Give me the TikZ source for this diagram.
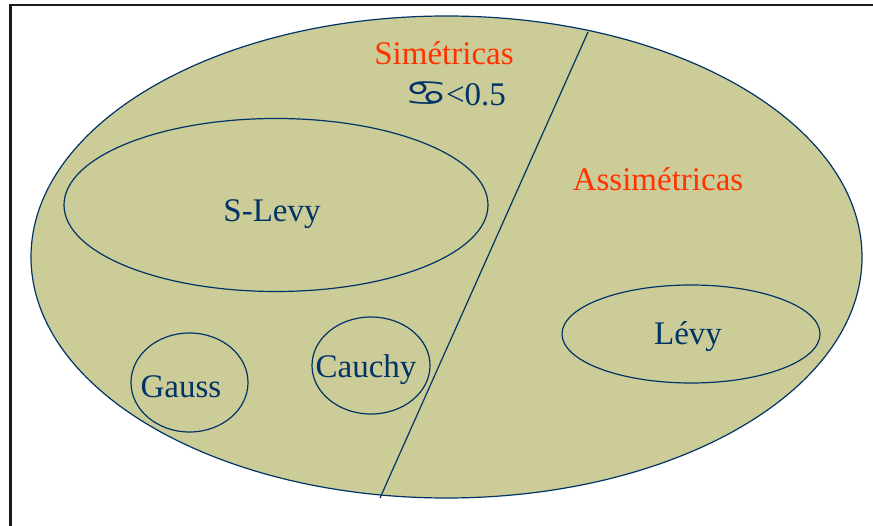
\documentclass[tikz,border=0pt]{standalone}
\usepackage{fontspec}
\setmainfont{Liberation Serif}
\newfontfamily\signfont{DejaVu Sans}
\usetikzlibrary{shapes.geometric}
\definecolor{khaki}{HTML}{CCCC99}
\definecolor{navy}{HTML}{003366}
\definecolor{flame}{HTML}{FF3300}
\definecolor{framec}{HTML}{1A1A1A}
\tikzset{
  setbox/.style={ellipse,draw=navy,line width=1.2pt,inner sep=0pt},
  setlabel/.style={text=navy,font=\fontsize{33}{36}\selectfont,inner sep=0pt},
  grouplabel/.style={text=flame,font=\fontsize{33}{36}\selectfont,inner sep=0pt},
  cut/.style={draw=navy,line width=1.2pt}
}
\begin{document}
\begin{tikzpicture}[x=1pt,y=-1pt]
  \useasboundingbox (0,0) rectangle (873,526);
  \draw[framec,line width=2.5pt] (10.5,526) -- (10.5,5) -- (873,5);

  % stable family
  \node[setbox,fill=khaki,minimum width=831pt,minimum height=482pt] (all) at (446.5,257) {};
  \coordinate (cutTop) at (588,32);
  \coordinate (cutBot) at (380,498);
  \draw[cut] (cutTop) -- (cutBot);

  \node[grouplabel] (sim) at (444,53) {Simétricas};
  \node[setlabel] (alpha) at (455,94) {\scalebox{1.4}[1]{\signfont\fontsize{35}{36}\selectfont ♋}\kern-2pt<0.5};
  \node[grouplabel] (asim) at (658,179) {Assimétricas};

  % subsets
  \node[setbox,minimum width=424pt,minimum height=173pt] (slevy) at (276,205) {};
  \node[setbox,minimum width=117pt,minimum height=99pt] (gauss) at (189.5,382.5) {};
  \node[setbox,minimum width=118pt,minimum height=97pt] (cauchy) at (371,365.5) {};
  \node[setbox,minimum width=258pt,minimum height=98pt] (levy) at (691,334) {};

  \node[setlabel] (slevyTxt) at (272,214) {S-Levy};
  \node[setlabel] (gaussTxt) at (181,387) {Gauss};
  \node[setlabel] (cauchyTxt) at (366,370) {Cauchy};
  \node[setlabel] (levyTxt) at (688,337) {Lévy};
\end{tikzpicture}
\end{document}
